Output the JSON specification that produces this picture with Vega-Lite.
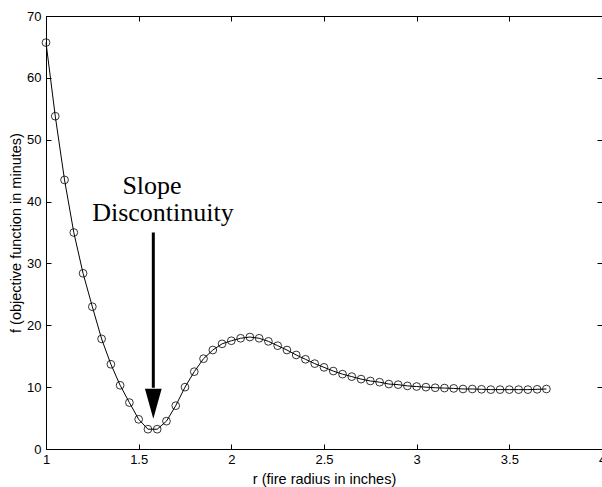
{
  "$schema": "https://vega.github.io/schema/vega-lite/v6.json",
  "width": 556,
  "height": 433,
  "autosize": "none",
  "padding": {"left": 46, "top": 16, "right": 0, "bottom": 38},
  "config": {
    "view": {"stroke": "black", "strokeWidth": 1},
    "font": "Liberation Sans",
    "axis": {
      "domainColor": "black", "domainWidth": 1, "tickColor": "black", "tickWidth": 1,
      "tickSize": -5, "labelColor": "black", "labelFontSize": 13, "labelFont": "Liberation Sans",
      "titleFont": "Liberation Sans", "titleFontSize": 14.5, "titleFontWeight": "normal", "titleColor": "black",
      "grid": false
    }
  },
  "datasets": {
    "curve": [
      {"r": 1.00, "f": 65.7}, {"r": 1.05, "f": 53.8}, {"r": 1.10, "f": 43.5}, {"r": 1.15, "f": 35.0},
      {"r": 1.20, "f": 28.4}, {"r": 1.25, "f": 23.0}, {"r": 1.30, "f": 17.8}, {"r": 1.35, "f": 13.7},
      {"r": 1.40, "f": 10.3}, {"r": 1.45, "f": 7.5}, {"r": 1.50, "f": 4.8}, {"r": 1.55, "f": 3.2},
      {"r": 1.60, "f": 3.2}, {"r": 1.65, "f": 4.5}, {"r": 1.70, "f": 7.0}, {"r": 1.75, "f": 10.0},
      {"r": 1.80, "f": 12.5}, {"r": 1.85, "f": 14.6}, {"r": 1.90, "f": 16.0}, {"r": 1.95, "f": 17.0},
      {"r": 2.00, "f": 17.5}, {"r": 2.05, "f": 17.9}, {"r": 2.10, "f": 18.1}, {"r": 2.15, "f": 17.9},
      {"r": 2.20, "f": 17.4}, {"r": 2.25, "f": 16.7}, {"r": 2.30, "f": 16.0}, {"r": 2.35, "f": 15.2},
      {"r": 2.40, "f": 14.5}, {"r": 2.45, "f": 13.8}, {"r": 2.50, "f": 13.2}, {"r": 2.55, "f": 12.6},
      {"r": 2.60, "f": 12.1}, {"r": 2.65, "f": 11.7}, {"r": 2.70, "f": 11.3}, {"r": 2.75, "f": 11.0},
      {"r": 2.80, "f": 10.8}, {"r": 2.85, "f": 10.5}, {"r": 2.90, "f": 10.4}, {"r": 2.95, "f": 10.2},
      {"r": 3.00, "f": 10.1}, {"r": 3.05, "f": 10.0}, {"r": 3.10, "f": 9.9}, {"r": 3.15, "f": 9.85},
      {"r": 3.20, "f": 9.8}, {"r": 3.25, "f": 9.7}, {"r": 3.30, "f": 9.7}, {"r": 3.35, "f": 9.65},
      {"r": 3.40, "f": 9.6}, {"r": 3.45, "f": 9.6}, {"r": 3.50, "f": 9.6}, {"r": 3.55, "f": 9.6},
      {"r": 3.60, "f": 9.6}, {"r": 3.65, "f": 9.65}, {"r": 3.70, "f": 9.7}
    ],
    "arrow": [{"ax": 1.579, "ytop": 35.0, "ybot": 9.9, "yhead": 7.32}],
    "labels": [
      {"lx": 1.572, "ly": 41.2, "txt": "Slope"},
      {"lx": 1.631, "ly": 36.9, "txt": "Discontinuity"}
    ]
  },
  "layer": [
    {
      "data": {"name": "curve"},
      "mark": {"type": "line", "color": "black", "strokeWidth": 1},
      "encoding": {
        "x": {"field": "r", "type": "quantitative",
              "scale": {"domain": [1, 4], "nice": false, "zero": false},
              "axis": {"orient": "bottom", "values": [1, 1.5, 2, 2.5, 3, 3.5, 4], "format": "~g", "title": "r (fire radius in inches)", "labelPadding": 9, "titlePadding": 6, "labelFlush": false}},
        "y": {"field": "f", "type": "quantitative",
              "scale": {"domain": [0, 70], "nice": false},
              "axis": {"orient": "left", "values": [0, 10, 20, 30, 40, 50, 60, 70], "title": "f (objective function in minutes)", "labelPadding": 10, "titlePadding": 3, "labelFlush": false}}
      }
    },
    {
      "data": {"name": "curve"},
      "mark": {"type": "point", "shape": "circle", "filled": false, "stroke": "black", "strokeWidth": 0.8, "size": 60, "opacity": 1},
      "encoding": {
        "x": {"field": "r", "type": "quantitative",
              "axis": {"orient": "top", "values": [1, 1.5, 2, 2.5, 3, 3.5, 4], "labels": false, "title": null, "domain": false}},
        "y": {"field": "f", "type": "quantitative",
              "axis": {"orient": "right", "values": [0, 10, 20, 30, 40, 50, 60, 70], "labels": false, "title": null, "domain": false}}
      }
    },
    {
      "data": {"name": "arrow"},
      "mark": {"type": "rule", "color": "black", "strokeWidth": 3},
      "encoding": {
        "x": {"field": "ax", "type": "quantitative", "axis": null},
        "y": {"field": "ytop", "type": "quantitative", "axis": null},
        "y2": {"field": "ybot"}
      }
    },
    {
      "data": {"name": "arrow"},
      "mark": {"type": "point", "shape": "M-0.557,-1L0.557,-1L0,1Z", "filled": true, "color": "black", "size": 900, "opacity": 1, "strokeWidth": 0},
      "encoding": {
        "x": {"field": "ax", "type": "quantitative", "axis": null},
        "y": {"field": "yhead", "type": "quantitative", "axis": null}
      }
    },
    {
      "data": {"name": "labels"},
      "mark": {"type": "text", "font": "Liberation Serif", "fontSize": 26, "color": "black", "align": "center", "baseline": "alphabetic"},
      "encoding": {
        "x": {"field": "lx", "type": "quantitative", "axis": null},
        "y": {"field": "ly", "type": "quantitative", "axis": null},
        "text": {"field": "txt"}
      }
    }
  ],
  "resolve": {"axis": {"x": "independent", "y": "independent"}}
}
